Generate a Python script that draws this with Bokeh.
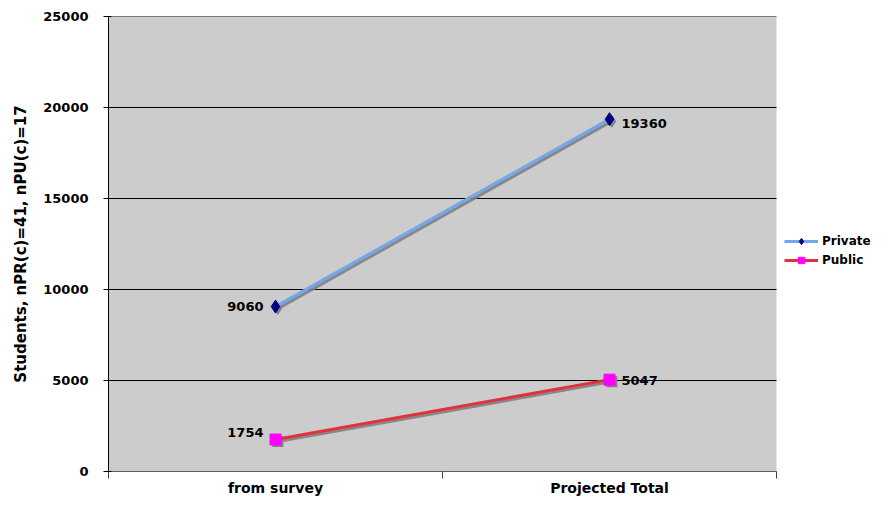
from bokeh.plotting import figure
from bokeh.models import FixedTicker, Range1d, ColumnDataSource, Legend, LegendItem, NumeralTickFormatter
from bokeh.transform import dodge
from bokeh.core.properties import value
from bokeh.embed import file_html
from bokeh.resources import INLINE

categories = ["from survey", "Projected Total"]
private = [9060, 19360]
public = [1754, 5047]
y_ticks = [0, 5000, 10000, 15000, 20000, 25000]
series_names = ["Private", "Public"]

FONT = "DejaVu Sans"
W, H = 872, 498
LEFT, TOP = 108, 16
PLOT_W = 668  # width of the gray plotting area in px

ncat = len(categories)
xs = [i + 0.5 for i in range(ncat)]
src = ColumnDataSource(dict(x=xs, private=private, public=public))

# frame extends to the right edge so the legend can sit there, gray area covers categories only
x_end = ncat * (W - LEFT) / PLOT_W

p = figure(width=W, height=H, output_backend="svg", toolbar_location=None,
           x_range=Range1d(0, x_end), y_range=Range1d(y_ticks[0], y_ticks[-1]),
           min_border_left=LEFT, min_border_top=TOP, min_border_bottom=20, min_border_right=0)

p.background_fill_color = "white"
p.border_fill_color = "white"
p.outline_line_color = None

# gray plot area
p.quad(left=[0], right=[ncat], bottom=[y_ticks[0]], top=[y_ticks[-1]],
       fill_color="#CCCCCC", line_color=None)
# horizontal grid lines (only across the plot area)
p.segment(x0=[0] * len(y_ticks), x1=[ncat] * len(y_ticks), y0=y_ticks, y1=y_ticks,
          line_color="black", line_width=1)
p.segment(x0=[0], x1=[ncat], y0=[y_ticks[0]], y1=[y_ticks[0]], line_color="#404040", line_width=1)

# x axis
p.xaxis.ticker = FixedTicker(ticks=xs, minor_ticks=list(range(ncat + 1)))
p.xaxis.major_label_overrides = {x: c for x, c in zip(xs, categories)}
p.xaxis.major_tick_line_color = None
p.xaxis.major_tick_in = 0
p.xaxis.major_tick_out = 0
p.xaxis.minor_tick_in = 0
p.xaxis.minor_tick_out = 7
p.xaxis.minor_tick_line_color = "#404040"
p.xaxis.axis_line_color = None
p.xaxis.major_label_standoff = 1
p.xaxis.major_label_text_font = FONT
p.xaxis.major_label_text_font_style = "bold"
p.xaxis.major_label_text_font_size = "14px"
p.xaxis.major_label_text_color = "black"
p.xgrid.visible = False

# y axis
p.yaxis.ticker = FixedTicker(ticks=y_ticks)
p.yaxis.formatter = NumeralTickFormatter(format="0")
p.yaxis.major_tick_in = 3
p.yaxis.major_tick_out = 5
p.yaxis.minor_tick_line_color = None
p.yaxis.axis_line_color = "black"
p.yaxis.major_tick_line_color = "black"
p.yaxis.major_label_standoff = 15
p.yaxis.major_label_text_font = FONT
p.yaxis.major_label_text_font_style = "bold"
p.yaxis.major_label_text_font_size = "13px"
p.yaxis.major_label_text_color = "black"
p.yaxis.axis_label = "Students, nPR(c)=41, nPU(c)=17"
p.yaxis.axis_label_text_font = FONT
p.yaxis.axis_label_text_font_style = "bold"
p.yaxis.axis_label_text_font_size = "15px"
p.yaxis.axis_label_text_color = "black"
p.yaxis.axis_label_standoff = 10
p.ygrid.visible = False

# shadows
shx = dodge("x", 0.007)
for col in ["private", "public"]:
    p.line(x=shx, y=dodge(col, -110), source=src, line_color="#808080", line_width=3, line_alpha=0.9)
p.scatter(x=shx, y=dodge("private", -110), source=src, marker="diamond", size=13,
          fill_color="#808080", line_color=None)
p.scatter(x=shx, y=dodge("public", -110), source=src, marker="square", size=11,
          fill_color="#808080", line_color=None)

# series
l1 = p.line(x="x", y="private", source=src, line_color="#6FA8EE", line_width=3)
m1 = p.scatter(x="x", y="private", source=src, marker="diamond", size=13,
               fill_color="#000080", line_color="#000080")
l2 = p.line(x="x", y="public", source=src, line_color="#E03238", line_width=3)
m2 = p.scatter(x="x", y="public", source=src, marker="square", size=11,
               fill_color="#FF00FF", line_color="#FF00FF")

# data labels
lab = dict(text_font=value(FONT), text_font_style="bold", text_font_size="13px",
           text_color="black", text_baseline="middle")
p.text(x=[xs[0]], y=[private[0]], text=[str(private[0])], text_align="right", x_offset=-12, y_offset=0, **lab)
p.text(x=[xs[1]], y=[private[1]], text=[str(private[1])], text_align="left", x_offset=12, y_offset=4, **lab)
p.text(x=[xs[0]], y=[public[0]], text=[str(public[0])], text_align="right", x_offset=-12, y_offset=-7, **lab)
p.text(x=[xs[1]], y=[public[1]], text=[str(public[1])], text_align="left", x_offset=12, y_offset=1, **lab)

legend = Legend(items=[LegendItem(label=series_names[0], renderers=[l1, m1]),
                       LegendItem(label=series_names[1], renderers=[l2, m2])],
                location=(PLOT_W + 8, 203), border_line_color=None, background_fill_color="white",
                background_fill_alpha=0.0,
                glyph_width=34, glyph_height=16, label_height=16, spacing=3,
                label_standoff=4, padding=0, margin=0,
                label_text_font=FONT, label_text_font_style="bold",
                label_text_font_size="12px", label_text_color="black")
p.add_layout(legend, "center")

open("out.html", "w").write(file_html(p, INLINE))
